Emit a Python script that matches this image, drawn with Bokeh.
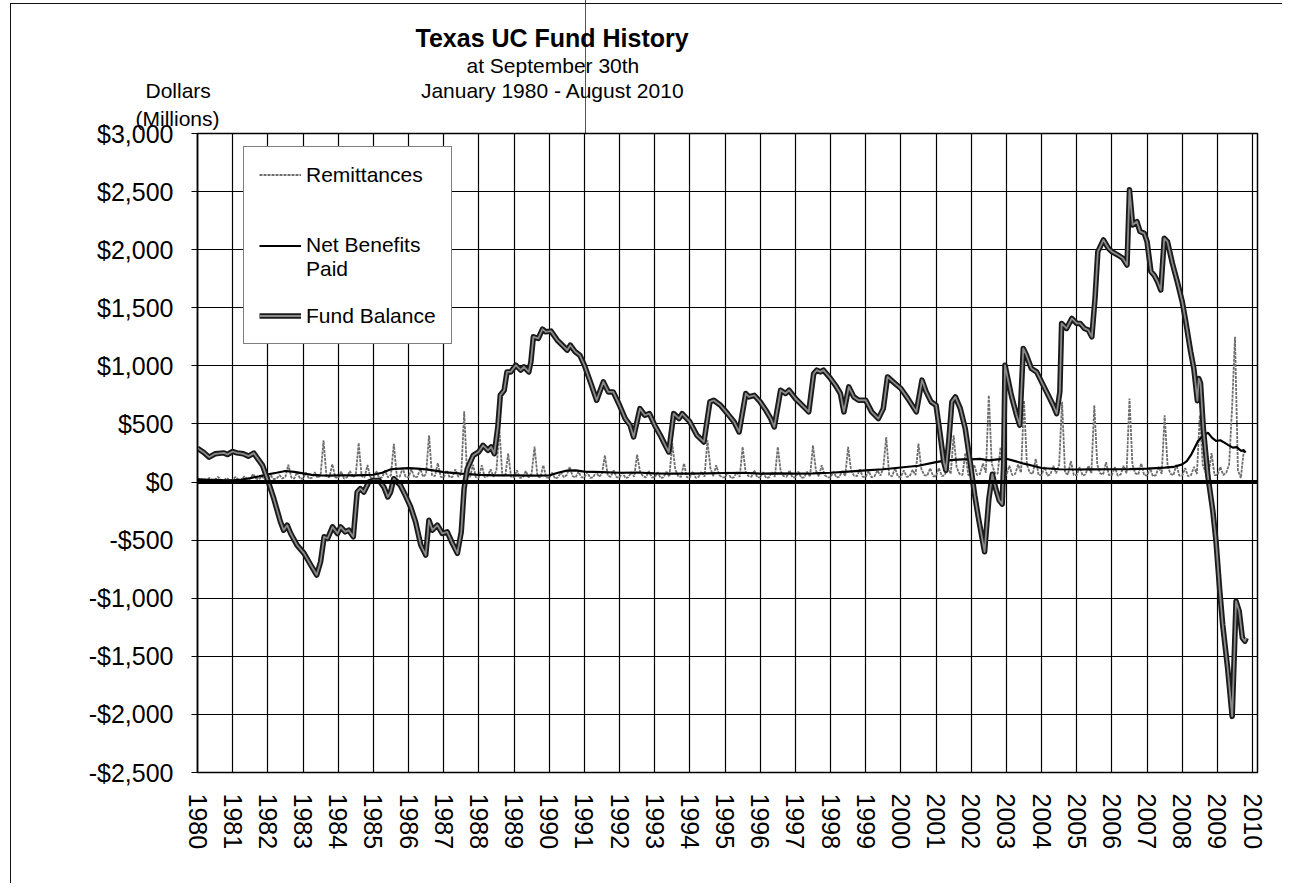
from bokeh.plotting import figure
from bokeh.models import (Range1d, FixedTicker, Span, Title, Legend, LegendItem,
                          ColumnDataSource)
from bokeh.embed import file_html
from bokeh.resources import INLINE

# ---------------- data ----------------
year_ticks = list(range(1980, 2011))
year_labels = [str(y) for y in year_ticks]

y_ticks = [-2500, -2000, -1500, -1000, -500, 0, 500, 1000, 1500, 2000, 2500, 3000]
y_tick_labels = ["-$2,500", "-$2,000", "-$1,500", "-$1,000", "-$500", "$0",
                 "$500", "$1,000", "$1,500", "$2,000", "$2,500", "$3,000"]

# Remittances, monthly values ($ millions), Jan 1980 onward
remittances = [
    15, 30, 10, 12, 35, 15, 20, 45, 20, 15, 35, 15,          # 1980
    20, 45, 18, 20, 50, 22, 30, 70, 30, 22, 50, 20,          # 1981
    25, 55, 25, 30, 60, 30, 45, 149, 40, 30, 86, 30,         # 1982
    30, 80, 30, 35, 85, 35, 60, 360, 50, 40, 154, 40,        # 1983
    35, 90, 30, 40, 95, 40, 60, 337, 50, 40, 146, 40,        # 1984
    35, 95, 35, 40, 100, 40, 60, 329, 50, 45, 120, 45,       # 1985
    40, 110, 40, 45, 115, 45, 70, 403, 60, 50, 163, 45,      # 1986
    40, 100, 40, 45, 110, 45, 70, 609, 55, 45, 150, 40,      # 1987
    40, 144, 40, 50, 110, 45, 100, 460, 60, 50, 247, 45,     # 1988
    40, 100, 35, 40, 95, 40, 70, 305, 50, 40, 145, 40,       # 1989
    35, 80, 30, 40, 85, 40, 60, 130, 50, 40, 90, 40,         # 1990
    40, 85, 35, 40, 90, 45, 70, 230, 55, 45, 100, 40,        # 1991
    40, 80, 35, 40, 85, 45, 236, 90, 50, 40, 95, 40,         # 1992
    40, 85, 35, 40, 90, 45, 334, 110, 50, 45, 160, 40,       # 1993
    40, 90, 35, 45, 90, 45, 359, 120, 50, 145, 60, 40,       # 1994
    40, 85, 35, 40, 85, 45, 302, 90, 50, 45, 100, 40,        # 1995
    40, 85, 35, 40, 85, 45, 302, 90, 50, 45, 100, 40,        # 1996
    40, 90, 35, 40, 90, 45, 316, 100, 50, 144, 60, 40,       # 1997
    40, 90, 40, 45, 95, 50, 302, 100, 55, 50, 110, 45,       # 1998
    45, 95, 40, 50, 100, 55, 120, 388, 60, 50, 120, 45,      # 1999
    45, 100, 45, 50, 105, 60, 330, 110, 60, 55, 120, 50,     # 2000
    50, 120, 50, 60, 130, 70, 402, 130, 70, 60, 250, 60,     # 2001
    60, 150, 60, 70, 160, 80, 747, 160, 80, 70, 300, 60,     # 2002
    60, 140, 60, 70, 150, 80, 700, 150, 80, 70, 200, 60,     # 2003
    60, 130, 55, 65, 140, 75, 150, 690, 80, 65, 180, 60,     # 2004
    60, 130, 55, 65, 140, 75, 661, 150, 75, 65, 170, 60,     # 2005
    60, 130, 55, 65, 140, 75, 718, 150, 75, 65, 160, 60,     # 2006
    55, 120, 50, 60, 130, 70, 575, 140, 70, 60, 150, 55,     # 2007
    55, 120, 50, 60, 130, 70, 575, 150, 80, 70, 250, 60,     # 2008
    60, 130, 60, 80, 150, 637, 1250, 100, 35, 267,           # 2009
]
remit_x = [1980 + i / 12 for i in range(len(remittances))]

# Net benefits paid (decimal year, $ millions)
benefits_x = [1980.0, 1980.25, 1980.5, 1980.75, 1981.0, 1981.25, 1981.5, 1981.75,
              1982.0, 1982.25, 1982.5, 1982.75, 1983.0, 1983.25, 1983.5, 1983.75,
              1984.0, 1984.5, 1985.0, 1985.25, 1985.5, 1985.75, 1986.0, 1986.25,
              1986.5, 1986.75, 1987.0, 1987.5, 1988.0, 1988.5, 1989.0, 1989.5,
              1990.0, 1990.25, 1990.5, 1990.75, 1991.0, 1991.5, 1992.0, 1992.5,
              1993.0, 1993.5, 1994.0, 1994.5, 1995.0, 1995.5, 1996.0, 1996.5,
              1997.0, 1997.5, 1998.0, 1998.5, 1999.0, 1999.5, 2000.0, 2000.5,
              2001.0, 2001.25, 2001.5, 2001.75, 2002.0, 2002.25, 2002.5, 2002.75,
              2003.0, 2003.25, 2003.5, 2003.75, 2004.0, 2004.5, 2005.0, 2005.5,
              2006.0, 2006.5, 2007.0, 2007.5, 2007.75, 2008.0, 2008.13, 2008.26,
              2008.45, 2008.6, 2008.73, 2008.85, 2008.97, 2009.08, 2009.2, 2009.3,
              2009.44, 2009.55, 2009.68, 2009.75, 2009.8]
benefits = [23, 20, 18, 15, 14, 22, 34, 49,
            66, 80, 95, 88, 75, 62, 57, 55,
            57, 57, 63, 80, 110, 116, 120, 115,
            109, 98, 86, 72, 62, 58, 57, 55,
            57, 80, 98, 100, 90, 85, 80, 82,
            74, 72, 72, 75, 78, 80, 72, 74,
            72, 75, 80, 90, 100, 110, 125, 140,
            172, 185, 190, 195, 195, 200, 187, 195,
            201, 180, 158, 140, 121, 110, 108, 109,
            110, 112, 115, 124, 130, 152, 180, 239,
            353, 400, 425, 380, 353, 360, 339, 320,
            296, 300, 267, 275, 253]

# Fund balance (decimal year, $ millions)
fund_x = [1980.0, 1980.17, 1980.33, 1980.5, 1980.75, 1980.85, 1981.0, 1981.12, 1981.3,
          1981.45, 1981.6, 1981.7, 1981.85, 1982.0, 1982.17, 1982.36, 1982.45, 1982.55,
          1982.65, 1982.83, 1983.03, 1983.22, 1983.39, 1983.5, 1983.6, 1983.7, 1983.84,
          1983.98, 1984.07, 1984.2, 1984.3, 1984.43, 1984.54, 1984.63, 1984.73, 1984.87,
          1985.0, 1985.16, 1985.3, 1985.41, 1985.49, 1985.58, 1985.68, 1985.77, 1985.91,
          1986.06, 1986.2, 1986.35, 1986.49, 1986.58, 1986.68, 1986.82, 1986.96, 1987.1,
          1987.25, 1987.39, 1987.5, 1987.58, 1987.67, 1987.84, 1988.0, 1988.12, 1988.26,
          1988.35, 1988.44, 1988.54, 1988.61, 1988.72, 1988.8, 1988.91, 1989.05, 1989.19,
          1989.28, 1989.42, 1989.48, 1989.55, 1989.69, 1989.81, 1989.9, 1990.05, 1990.23,
          1990.42, 1990.51, 1990.6, 1990.74, 1990.87, 1991.0, 1991.17, 1991.35, 1991.54,
          1991.68, 1991.82, 1992.0, 1992.16, 1992.3, 1992.4, 1992.58, 1992.72, 1992.85,
          1993.0, 1993.16, 1993.3, 1993.4, 1993.54, 1993.69, 1993.78, 1994.0, 1994.2,
          1994.4, 1994.57, 1994.68, 1994.87, 1995.07, 1995.26, 1995.4, 1995.59, 1995.68,
          1995.83, 1996.0, 1996.16, 1996.3, 1996.4, 1996.58, 1996.72, 1996.82, 1997.0,
          1997.24, 1997.38, 1997.52, 1997.61, 1997.71, 1997.8, 1998.0, 1998.14, 1998.28,
          1998.38, 1998.52, 1998.66, 1998.8, 1999.0, 1999.17, 1999.36, 1999.5, 1999.62,
          1999.78, 2000.0, 2000.2, 2000.44, 2000.6, 2000.72, 2000.86, 2001.0, 2001.12,
          2001.22, 2001.28, 2001.36, 2001.45, 2001.55, 2001.69, 2001.83, 2001.97, 2002.1,
          2002.2, 2002.38, 2002.5, 2002.6, 2002.7, 2002.8, 2002.88, 2002.92, 2002.96,
          2003.0, 2003.14, 2003.29, 2003.38, 2003.48, 2003.57, 2003.71, 2003.86, 2004.0,
          2004.19, 2004.33, 2004.43, 2004.52, 2004.57, 2004.71, 2004.86, 2005.0, 2005.1,
          2005.22, 2005.33, 2005.43, 2005.52, 2005.6, 2005.76, 2005.9, 2006.0, 2006.17,
          2006.31, 2006.43, 2006.5, 2006.59, 2006.71, 2006.8, 2006.92, 2007.0, 2007.11,
          2007.2, 2007.3, 2007.39, 2007.49, 2007.58, 2007.72, 2007.86, 2008.0, 2008.1,
          2008.24, 2008.33, 2008.43, 2008.47, 2008.52, 2008.6, 2008.73, 2008.87, 2008.96,
          2009.06, 2009.15, 2009.29, 2009.42, 2009.48, 2009.53, 2009.62, 2009.71, 2009.78,
          2009.82]
fund = [291, 257, 214, 243, 251, 237, 263, 251, 243,
        223, 249, 206, 143, 14, -143, -343, -414, -371,
        -443, -543, -614, -714, -800, -686, -471, -486, -386,
        -443, -386, -429, -414, -471, -86, -57, -86, 0,
        14, 14, -43, -129, -86, 29, 0, -29, -114,
        -214, -343, -543, -629, -329, -414, -371, -443, -429,
        -529, -614, -429, -57, 114, 229, 260, 316, 273,
        302, 244, 474, 747, 790, 948, 948, 1006, 963,
        992, 948, 1035, 1250, 1236, 1316, 1293, 1299, 1221,
        1164, 1135, 1178, 1121, 1092, 1006, 862, 704, 862,
        776, 776, 661, 546, 489, 388, 632, 575, 589,
        489, 402, 316, 259, 589, 546, 589, 517, 402,
        345, 690, 704, 661, 589, 517, 431, 762, 733,
        747, 690, 618, 546, 474, 790, 762, 790, 719,
        647, 604, 934, 963, 948, 963, 891, 833, 762,
        604, 819, 733, 704, 704, 604, 546, 632, 905,
        862, 805, 718, 604, 877, 776, 690, 661, 402,
        172, 100, 345, 690, 733, 632, 460, 172, -115,
        -300, -600, -150, 67, -60, -160, -190, 144, 1006,
        948, 747, 575, 489, 1150, 1092, 977, 948, 862,
        747, 661, 589, 776, 1365, 1322, 1408, 1365, 1365,
        1322, 1308, 1250, 1581, 1983, 2084, 2012, 1983, 1954,
        1926, 1868, 2515, 2213, 2242, 2156, 2141, 2069, 1811,
        1782, 1724, 1653, 2098, 2069, 1882, 1724, 1552, 1380,
        1121, 977, 700, 891, 850, 460, 50, -250, -508,
        -911, -1227, -1600, -2017, -1486, -1026, -1112, -1342, -1370,
        -1342]

# ---------------- figure ----------------
FONT = "Liberation Sans"

p = figure(width=1282, height=883, output_backend="svg", toolbar_location=None,
           x_range=Range1d(1980, 2010.14), y_range=Range1d(-2500, 3000),
           min_border_left=197, min_border_right=25, min_border_top=133,
           min_border_bottom=111, background_fill_color="white",
           border_fill_color=None)
p.title.text = ""
# page frame lines of the scanned sheet (left and top edge, crease)
p.styles = {
    "background": ("linear-gradient(#111, #111) 10px 3px / 1px 100% no-repeat, "
                   "linear-gradient(#111, #111) 10px 3px / 100% 1px no-repeat, "
                   "linear-gradient(#555, #555) 585px 0px / 1px 133px no-repeat, "
                   "white"),
}

p.outline_line_color = "black"
p.outline_line_width = 1.5

# axes
p.xaxis.ticker = FixedTicker(ticks=year_ticks)
p.xaxis.major_label_overrides = {y: s for y, s in zip(year_ticks, year_labels)}
p.xaxis.major_label_orientation = "vertical"
p.xaxis.major_label_text_font = FONT
p.xaxis.major_label_text_font_size = "25px"
p.xaxis.major_label_text_color = "black"
p.xaxis.major_label_standoff = 21
p.xaxis.major_tick_out = 0
p.xaxis.major_tick_in = 0
p.xaxis.minor_tick_out = 0
p.xaxis.minor_tick_in = 0
p.xaxis.axis_line_color = "black"

p.yaxis.ticker = FixedTicker(ticks=y_ticks)
p.yaxis.major_label_overrides = {v: s for v, s in zip(y_ticks, y_tick_labels)}
p.yaxis.major_label_text_font = FONT
p.yaxis.major_label_text_font_size = "25px"
p.yaxis.major_label_text_color = "black"
p.yaxis.major_label_standoff = 18
p.yaxis.major_tick_out = 6
p.yaxis.major_tick_in = 0
p.yaxis.minor_tick_out = 0
p.yaxis.minor_tick_in = 0
p.yaxis.major_tick_line_color = "black"
p.yaxis.axis_line_color = "black"
p.yaxis.axis_line_width = 1.5

p.xgrid.ticker = FixedTicker(ticks=year_ticks)
p.ygrid.ticker = FixedTicker(ticks=y_ticks)
for g in (p.xgrid, p.ygrid):
    g.grid_line_color = "black"
    g.grid_line_alpha = 1.0
    g.grid_line_width = 1.2

p.add_layout(Span(location=0, dimension="width", line_color="black", line_width=4))

# series
rsrc = ColumnDataSource(dict(x=remit_x, y=remittances))
bsrc = ColumnDataSource(dict(x=benefits_x, y=benefits))
fsrc = ColumnDataSource(dict(x=fund_x, y=fund))

r_rem = p.line("x", "y", source=rsrc, line_color="#6e6e6e", line_width=1.8,
               line_dash="3 1")
r_ben = p.line("x", "y", source=bsrc, line_color="black", line_width=2.2)
r_fund_outer = p.line("x", "y", source=fsrc, line_color="#1a1a1a", line_width=5.5,
                      line_join="round")
r_fund_inner = p.line("x", "y", source=fsrc, line_color="#8a8a8a", line_width=1.8,
                      line_join="round")

NB = "\u00a0"
legend = Legend(items=[
    LegendItem(label="Remittances", renderers=[r_rem]),
    LegendItem(label=NB + "\nNet Benefits\nPaid", renderers=[r_ben]),
    LegendItem(label="Fund Balance", renderers=[r_fund_outer, r_fund_inner]),
], location=(46, 428))
legend.label_text_font = FONT
legend.label_text_font_size = "21px"
legend.label_text_color = "black"
legend.glyph_width = 42
legend.glyph_height = 25
legend.label_height = 25
legend.label_standoff = 5
legend.spacing = 22
legend.padding = 15
legend.margin = 0
legend.border_line_color = "black"
legend.border_line_width = 1.5
legend.background_fill_color = "white"
legend.background_fill_alpha = 1.0
p.add_layout(legend)

# titles: stacked above the frame (first added = closest to the frame)
def add_title(text, size, offset, standoff, bold=False):
    p.add_layout(Title(text=text, align="left", offset=offset, standoff=standoff,
                       text_font=FONT, text_font_size=size,
                       text_font_style="bold" if bold else "normal",
                       text_color="black"), "above")

add_title("(Millions)", "21px", -62, 7)
add_title("Dollars" + NB * 36 + "January 1980 - August 2010", "21px", -52, 0)
add_title("at September 30th", "21px", 269, 0)
add_title("Texas UC Fund History", "25px", 218, 0, bold=True)

open("out.html", "w").write(file_html(p, INLINE))
